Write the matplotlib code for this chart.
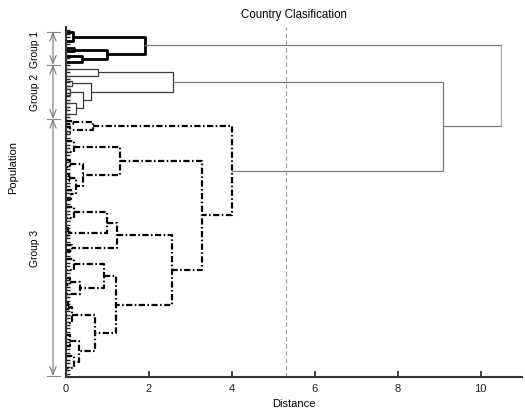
import matplotlib
matplotlib.use('Agg')
import matplotlib.pyplot as plt

plt.rcParams['font.family'] = ['Liberation Sans', 'DejaVu Sans']
plt.rcParams['font.size'] = 8

# merge tree per group: (distance, left, right); an int is a bundle of leaves joined at ~0
group1 = (1.9, (0.17, 2, 3), (1.0, (0.2, 1, 1), (0.38, 2, 1)))
group2 = (2.58, (0.78, 3, 1),
          (0.6, (0.15, 2, 1), (0.4, (0.1, 1, 2), (0.25, 3, 3))))
group3 = (4.0, (0.66, (0.17, 1, 1), (0.1, 1, 2)),
          (3.27,
           (1.3, (0.2, 3, 3), (0.42, (0.1, 2, 2), (0.25, (0.08, 2, 2), (0.12, 3, 2)))),
           (2.56,
            (1.22, (0.98, (0.2, 3, 3), (0.05, 3, 3)), (0.15, 1, 2)),
            (1.2,
             (0.92, (0.2, 3, 3), (0.33, (0.1, 2, 2), 3)),
             (0.7, (0.15, (0.05, 2, 3), 4), (0.32, (0.1, 3, 3), (0.2, 3, 4)))))))
groups = [group1, group2, group3]
group_names = ['Group 1', 'Group 2', 'Group 3']
upper_merges = [9.1, 10.5]   # group 2 + group 3, then with group 1
cut_distance = 5.3

group_styles = [
    dict(color='black', lw=2.0, ls='-'),
    dict(color='#3c3c3c', lw=0.9, ls='-'),
    dict(color='black', lw=1.6, ls=(0, (2.8, 1.1, 0.7, 1.1))),
]
link_color = '#7a7a7a'


def count_leaves(node):
    if isinstance(node, int):
        return node
    return count_leaves(node[1]) + count_leaves(node[2])


def layout(node, start, segs):
    """Walk the tree; returns (leaf-space position, distance, next free leaf)"""
    if isinstance(node, int):
        return start + (node - 1) / 2, 0.0, start + node
    h, left, right = node
    kl, xl, start = layout(left, start, segs)
    kr, xr, start = layout(right, start, segs)
    segs.append(([xl, h, h, xr], [kl, kl, kr, kr]))
    return (kl + kr) / 2, h, start


n = sum(count_leaves(g) for g in groups)
to_y = lambda k: n - k   # leaf 0 sits at the top

fig = plt.figure(figsize=(5.25, 4.10), dpi=100)
ax = fig.add_axes([66 / 525, 32 / 410, 456 / 525, 350 / 410])

tops = []
start = 0
edges = [start]
for g, style in zip(groups, group_styles):
    segs = []
    k, h, start = layout(g, start, segs)
    edges.append(start)
    tops.append((to_y(k), h))
    for xs, ks in segs:
        ax.plot(xs, [to_y(v) for v in ks], solid_capstyle='butt',
                dash_capstyle='butt', **style)

# links above the groups
(y1, h1), (y2, h2), (y3, h3) = tops
ax.plot([h2, upper_merges[0], upper_merges[0], h3], [y2, y2, y3, y3],
        color=link_color, lw=0.9)
y23 = (y2 + y3) / 2
ax.plot([h1, upper_merges[1]], [y1, y1], color=link_color, lw=0.9)
ax.plot([upper_merges[0], upper_merges[1]], [y23, y23], color=link_color, lw=0.9)
ax.plot([upper_merges[1], upper_merges[1]], [y1, y23], color='#a8a8a8', lw=0.9)

ax.axvline(cut_distance, color='#9a9a9a', lw=0.8, ls=(0, (4, 2.5)))

ax.set_xlim(0, 11)
ax.set_ylim(0, n + 1)
ax.set_xticks([0, 2, 4, 6, 8, 10])
ax.set_yticks(range(1, n + 1))
ax.set_yticklabels([])
ax.tick_params(axis='x', direction='in', length=4, width=1.2, pad=4, colors='#222')
ax.tick_params(axis='y', direction='in', length=3, width=1.0, colors='#222')
for side in ['top', 'right']:
    ax.spines[side].set_visible(False)
for side in ['left', 'bottom']:
    ax.spines[side].set_linewidth(1.5)
    ax.spines[side].set_color('#333')

ax.set_title('Country Clasification', fontsize=8.3, pad=7)
ax.set_xlabel('Distance', labelpad=4)
ax.set_ylabel('Population')
ax.yaxis.set_label_coords(-0.105, 0.6)

# group brackets on the left of the axis
bounds = [to_y(edges[0]) - 0.4, to_y(edges[1] - 0.1), to_y(edges[2] - 0.5), 0.3]
for i, name in enumerate(group_names):
    ax.annotate('', xy=(-0.0285, bounds[i]), xytext=(-0.0285, bounds[i + 1]),
                xycoords=('axes fraction', 'data'), textcoords=('axes fraction', 'data'),
                arrowprops=dict(arrowstyle='<->,head_length=0.7,head_width=0.28',
                                color='#777', lw=0.8, shrinkA=0, shrinkB=0),
                annotation_clip=False)
    ax.text(-0.068, (bounds[i] + bounds[i + 1]) / 2, name, rotation=90, fontsize=7.4,
            ha='center', va='center', transform=ax.get_yaxis_transform())
for b in bounds:
    ax.plot([-0.042, -0.014], [b, b], color='#888', lw=0.8,
            transform=ax.get_yaxis_transform(), clip_on=False)

fig.savefig('out.png', dpi=100)
